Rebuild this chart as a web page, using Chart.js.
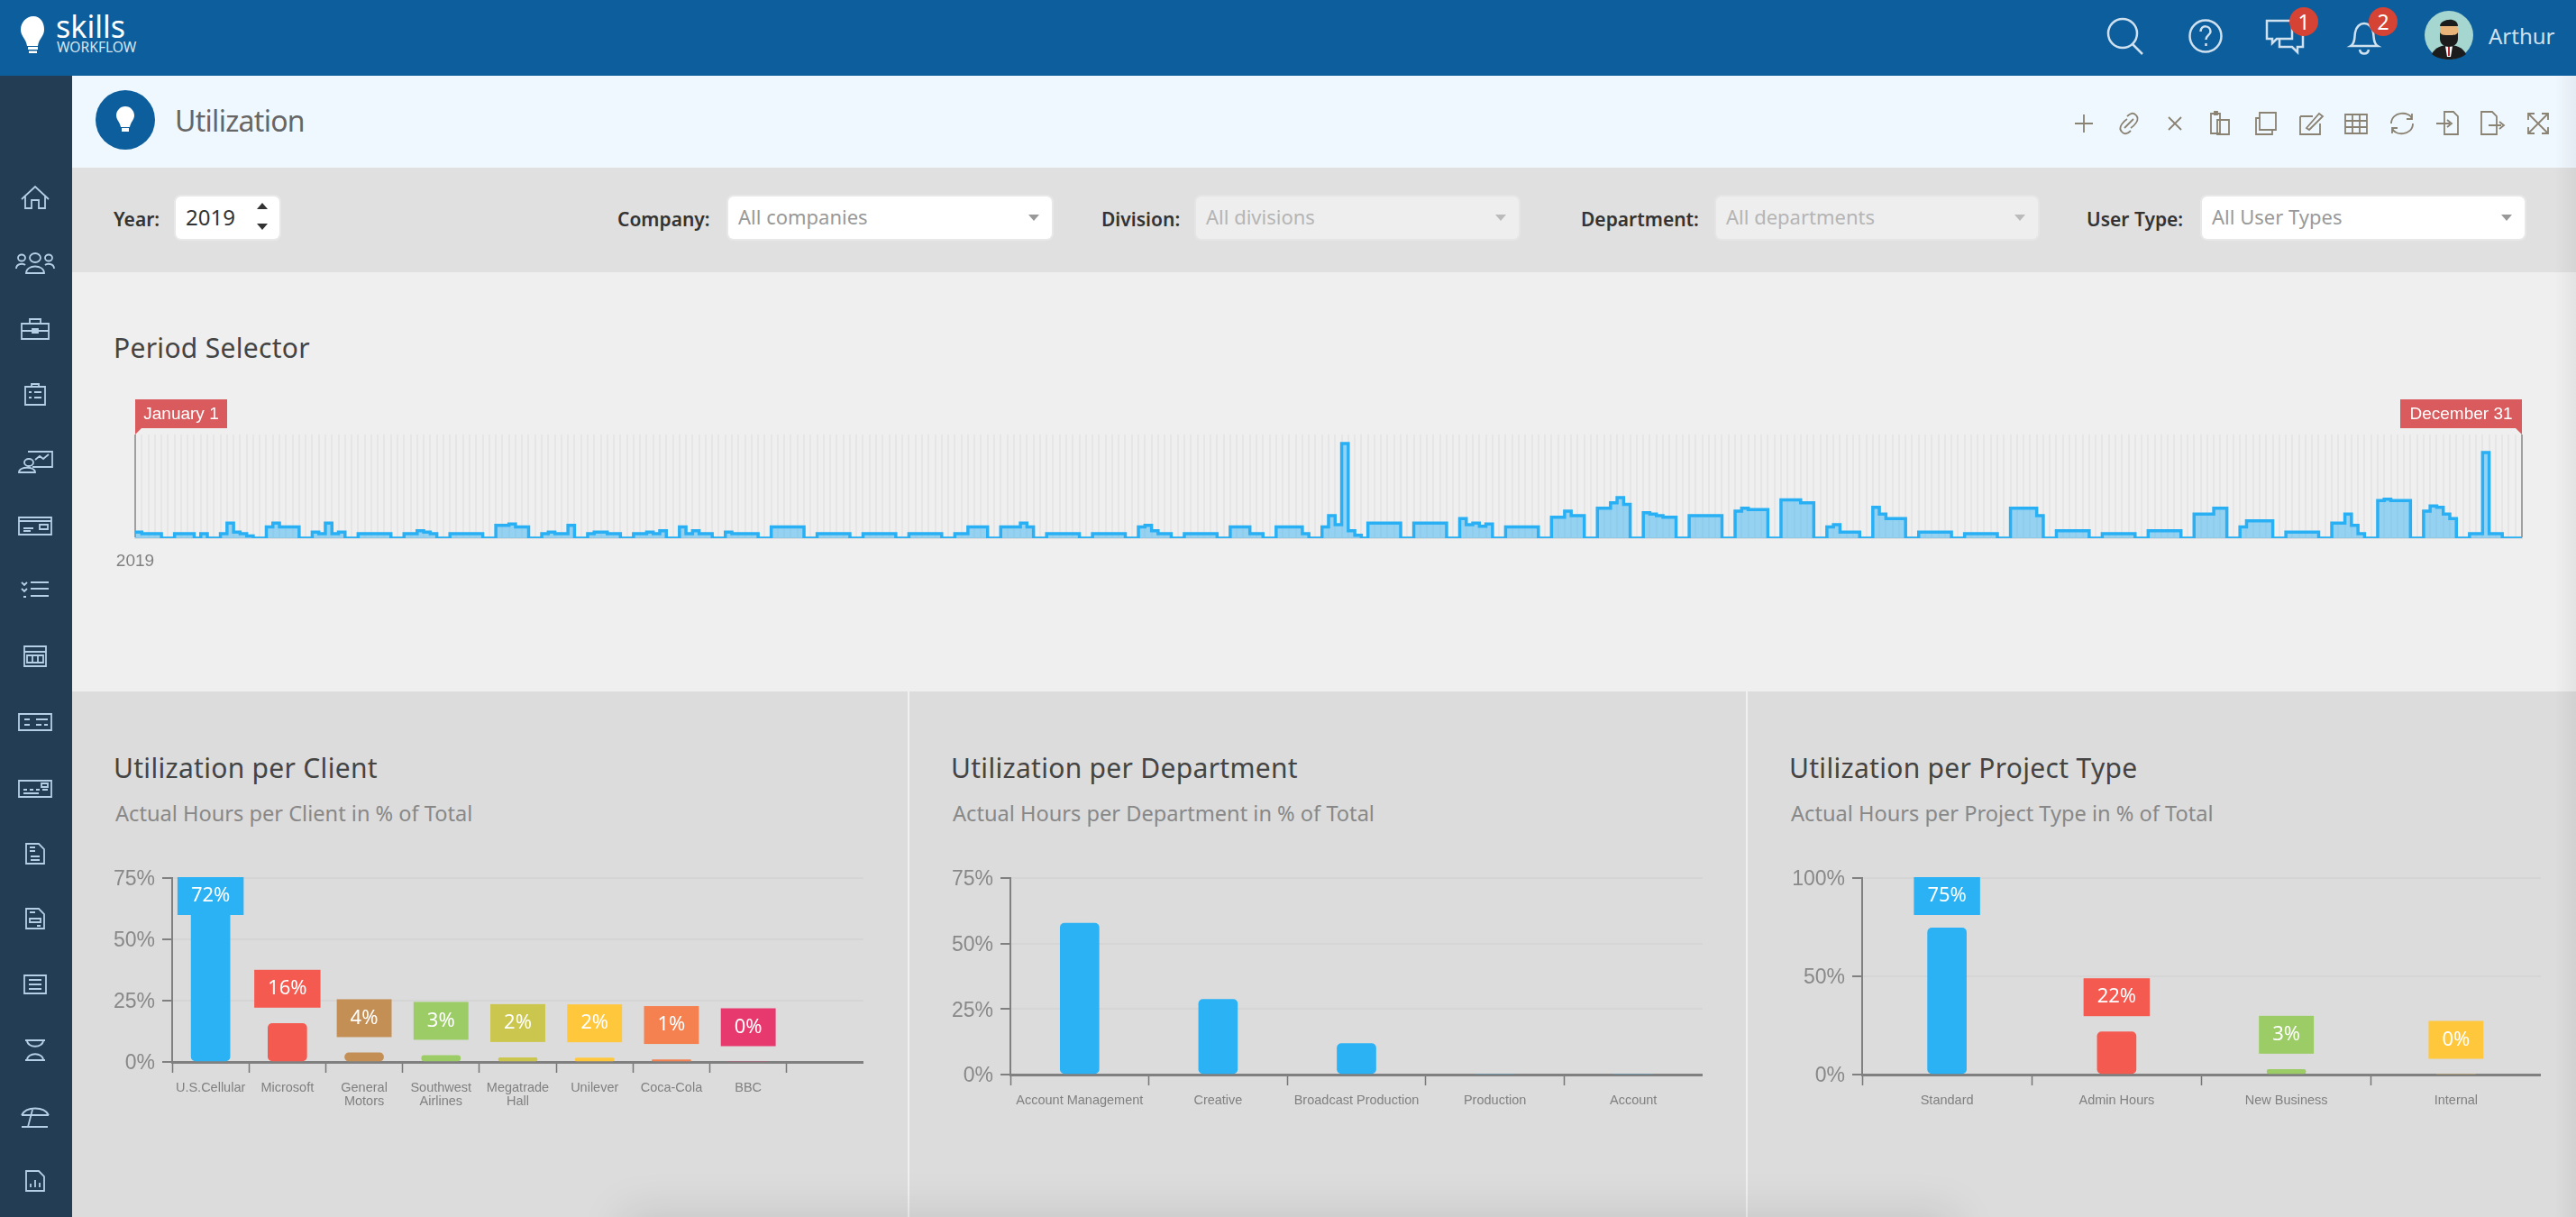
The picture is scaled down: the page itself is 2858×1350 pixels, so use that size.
<!DOCTYPE html>
<html>
<head>
<meta charset="utf-8">
<title>Utilization</title>
<script src="https://cdn.jsdelivr.net/npm/chart.js@4"></script>
<style>
  html, body { margin: 0; padding: 0; background: #dcdcdc; }
  body { position: relative; width: 2858px; height: 1350px; overflow: hidden; font-family: 'Noto Sans', sans-serif; }
  .box { position: absolute; }
  .txt { position: absolute; white-space: nowrap; line-height: 1; transform: translateY(-50%); }
  .field { position: absolute; top: 218px; height: 47px; box-sizing: border-box; background: #fff; border-radius: 6px; box-shadow: 0 0 0 2px #e8e8e8; font-size: 22px; line-height: 45px; padding-left: 11px; color: #999; }
  .field.off { background: #eee; color: #b5b5b5; box-shadow: 0 0 0 2px #e5e5e5; }
  .field i { position: absolute; right: 14px; top: 20px; border: 6px solid transparent; border-top: 7px solid #999; border-bottom: 0; }
  .field.off i { border-top-color: #bbb; }
  .lbl { font-size: 21px; font-weight: 600; color: #333; top: 243px; }
  .panelTitle { font-size: 30px; letter-spacing: .3px; color: #444; top: 852px; }
  .panelSub { font-size: 23.6px; color: #888; top: 903px; }
  canvas { position: absolute; }
  svg { position: absolute; overflow: visible; fill: none; }
</style>
</head>
<body>
<!-- frame -->
<div class="box" style="left:0;top:0;width:2858px;height:84px;background:#0c5e9d"></div>
<div class="box" style="left:0;top:84px;width:80px;height:1266px;background:#223d54"></div>
<div class="box" style="left:80px;top:84px;width:2778px;height:102px;background:#f0f8ff"></div>
<div class="box" style="left:80px;top:186px;width:2778px;height:116px;background:#e0e0e0"></div>
<div class="box" style="left:80px;top:302px;width:2778px;height:465px;background:#efefef"></div>
<div class="box" style="left:80px;top:767px;width:2778px;height:583px;background:#dcdcdc"></div>
<div class="box" style="left:1007px;top:767px;width:2px;height:583px;background:#f0f0f0"></div>
<div class="box" style="left:1937px;top:767px;width:2px;height:583px;background:#f0f0f0"></div>
<div class="box" style="left:2834px;top:84px;width:24px;height:1266px;background:linear-gradient(90deg,rgba(0,0,0,0),rgba(0,0,0,.05))"></div>
<div class="box" style="left:720px;top:1375px;width:1420px;height:20px;box-shadow:0 0 50px 30px rgba(0,0,0,.1)"></div>

<!-- logo -->
<svg style="left:20px;top:16px" width="34" height="44" viewBox="0 0 34 44">
  <path d="M17 2C9 2 3 9 3 17c0 7 6 10 7 18h12c1-8 7-11 7-18C29 9 25 2 17 2z" fill="#fff"/>
  <rect x="11" y="36" width="11" height="3" fill="#fff"/><rect x="12" y="40.500" width="9" height="2.500" fill="#fff"/>
</svg>
<div class="txt" style="left:62px;top:29px;font-size:34px;color:#fff">skills</div>
<div class="txt" style="left:63px;top:53px;font-size:15.6px;color:#d6e5f1">WORKFLOW</div>

<!-- top right -->
<svg style="left:2336px;top:18px" width="46" height="44" stroke="#cfe0ef" stroke-width="2.500">
  <circle cx="19" cy="19" r="16"/><path d="M30 31l11 11"/>
</svg>
<svg style="left:2428px;top:21px" width="38" height="38" stroke="#cfe0ef" stroke-width="2.500">
  <circle cx="19" cy="19" r="17.500"/><path d="M13.500 14c0-8 11-7 11 0 0 4-5 4-5 9M19.500 27v3"/>
</svg>
<svg style="left:2513px;top:21px" width="44" height="38" stroke="#cfe0ef" stroke-width="2.500">
  <path d="M4 2h26v20H13l-5 5v-5H2V2zM16 22v9h14l6 6v-6h6V14h-8"/>
</svg>
<svg style="left:2606px;top:21px" width="34" height="40" stroke="#cfe0ef" stroke-width="2.500">
  <path d="M2 30c5-3 4-9 5-15 1-6 5-10 10-10s9 4 10 10c1 6 0 12 5 15zM12 34c1 6 9 6 10 0"/>
</svg>
<div class="box" style="left:2540px;top:8px;width:32px;height:32px;border-radius:50%;background:#d54335;color:#fff;font-size:23px;line-height:32px;text-align:center">1</div>
<div class="box" style="left:2628px;top:8px;width:32px;height:32px;border-radius:50%;background:#d54335;color:#fff;font-size:23px;line-height:32px;text-align:center">2</div>
<svg style="left:2690px;top:12px" width="54" height="54" viewBox="0 0 54 54">
  <ellipse cx="27" cy="27" rx="27" ry="27" fill="#a6d6d0"/>
  <path d="M8 48c4-8 12-10 19-10s15 2 19 10c-10 8-28 8-38 0z" fill="#1c1c1c"/>
  <path d="M23 39h8l-2 12h-4z" fill="#fff"/><path d="M26 40h2v10h-2z" fill="#b3262e"/>
  <rect x="17" y="12" width="20" height="25" rx="9" fill="#e9b47a"/>
  <path d="M17 24c2 3 4 3 10 3s8 0 10-3v7c0 6-5 9-10 9s-10-3-10-9z" fill="#1c1c1c"/>
  <path d="M17 17c0-8 20-11 20 0z" fill="#1c1c1c"/>
</svg>
<div class="txt" style="left:2761px;top:40px;font-size:24px;color:#cfe0ef">Arthur</div>

<!-- title bar -->
<div class="box" style="left:106px;top:100px;width:66px;height:66px;border-radius:50%;background:#0c5e9d"></div>
<svg style="left:128px;top:117px" width="22" height="30" viewBox="0 0 22 30">
  <path d="M11 1C5 1 1 6 1 11c0 5 4 7 5 13h10c1-6 5-8 5-13 0-5-4-10-10-10z" fill="#fff"/><rect x="7" y="25" width="8" height="4" fill="#fff"/>
</svg>
<div class="txt" style="left:194px;top:134px;font-size:32px;letter-spacing:-.7px;color:#666">Utilization</div>
<div id="tools"></div>
<div id="side"></div>

<!-- filters -->
<div class="txt lbl" style="left:126px">Year:</div>
<div class="field" style="left:195px;width:115px;color:#333;font-size:24px">2019</div>
<svg style="left:284px;top:224px" width="14" height="32"><path d="M1 8l6-7 6 7zM1 24l6 7 6-7z" fill="#333"/></svg>
<div class="txt lbl" style="left:685px">Company:</div>
<div class="field" style="left:808px;width:359px">All companies<i></i></div>
<div class="txt lbl" style="left:1222px">Division:</div>
<div class="field off" style="left:1327px;width:358px">All divisions<i></i></div>
<div class="txt lbl" style="left:1754px">Department:</div>
<div class="field off" style="left:1904px;width:357px">All departments<i></i></div>
<div class="txt lbl" style="left:2315px">User Type:</div>
<div class="field" style="left:2443px;width:358px">All User Types<i></i></div>

<!-- period selector -->
<div class="txt" style="left:126px;top:386px;font-size:30px;letter-spacing:.3px;color:#444">Period Selector</div>
<canvas id="periodChart" width="2778" height="210" style="left:80px;top:435px"></canvas>

<!-- panels -->
<div class="txt panelTitle" style="left:126px">Utilization per Client</div>
<div class="txt panelSub" style="left:128px">Actual Hours per Client in % of Total</div>
<canvas id="clientChart" width="858" height="310" style="left:100px;top:950px"></canvas>

<div class="txt panelTitle" style="left:1055px">Utilization per Department</div>
<div class="txt panelSub" style="left:1057px">Actual Hours per Department in % of Total</div>
<canvas id="deptChart" width="859" height="310" style="left:1030px;top:950px"></canvas>

<div class="txt panelTitle" style="left:1985px">Utilization per Project Type</div>
<div class="txt panelSub" style="left:1987px">Actual Hours per Project Type in % of Total</div>
<canvas id="typeChart" width="844" height="310" style="left:1975px;top:950px"></canvas>

<script>
'use strict';

/* Hours booked per day, 1 Jan - 31 Dec 2019, rows run Saturday to Friday */
const dailyHours = [
  4, 3, 3, 3,
  0, 0, 3, 3, 3, 0, 3,
  0, 0, 3, 10, 4, 3, 1.5,
  0, 0, 7.5, 10, 7.5, 7.5, 7.5,
  0, 0, 4, 3, 10, 3, 4,
  0, 0, 3, 3, 3, 3, 3,
  0, 0, 3, 3, 5, 4, 3,
  0, 0, 3, 3, 3, 3, 3,
  0, 0, 8.5, 8.5, 9.5, 7.5, 7.5,
  0, 0, 3, 4, 3, 3, 8.5,
  0, 0, 3, 4, 4, 3, 3,
  0, 0, 3, 3, 4, 3, 5,
  0, 0, 7.5, 3, 5, 3, 3,
  0, 0, 4, 3, 3, 3, 3,
  0, 0, 7.5, 7.5, 7.5, 7.5, 7.5,
  0, 0, 3, 3, 3, 3, 3,
  0, 0, 3, 3, 3, 3, 3,
  0, 0, 3, 3, 3, 3, 3,
  0, 0, 3, 3, 7.5, 7.5, 7.5,
  0, 0, 7.5, 7.5, 7.5, 10, 7.5,
  0, 0, 3, 3, 3, 3, 3,
  0, 0, 3, 3, 3, 3, 3,
  0, 0, 7.5, 8.5, 5, 3, 3,
  0, 0, 3, 3, 3, 3, 3,
  0, 0, 7.5, 7.5, 7.5, 3, 3,
  0, 0, 7.5, 7.5, 7.5, 7.5, 3,
  0, 0, 7.5, 15, 9, 63, 5,
  2, 0, 10, 10, 10, 10, 10,
  0, 0, 10, 10, 10, 10, 10,
  0, 0, 13, 9, 10, 8, 9.5,
  0, 0, 7.5, 7.5, 7.5, 7.5, 7.5,
  0, 0, 14, 14, 18, 15, 15,
  0, 0, 20, 20, 23.5, 27, 22.5,
  0, 0, 17, 16, 15, 14, 14,
  0, 0, 15, 15, 15, 15, 15,
  0, 0, 18, 20, 19, 19, 19,
  0, 0, 25.5, 25.5, 25.5, 23.5, 23.5,
  0, 0, 7.5, 9, 4, 4, 4,
  0, 0, 20.5, 16, 13, 13, 13,
  0, 0, 4, 4, 4, 4, 4,
  0, 0, 3, 3, 3, 3, 3,
  0, 0, 20, 20, 20, 20, 15,
  0, 0, 5, 5, 5, 5, 5,
  0, 0, 3, 3, 3, 3, 3,
  0, 0, 5, 5, 5, 5, 5,
  0, 0, 16, 16, 16, 20, 20,
  0, 0, 7.5, 11.5, 11.5, 11.5, 11.5,
  0, 0, 4, 4, 4, 4, 4,
  0, 0, 10, 10, 16, 8.5, 3,
  0, 0, 25, 26, 25, 25, 25,
  0, 0, 18, 21.5, 20.5, 16, 13,
  0, 0, 3, 3, 57, 3, 3,
  0, 0, 0, 0,
];
const periodYear  = '2019';
const periodStart = 'January 1';
const periodEnd   = 'December 31';

const clientLabels = ['U.S.Cellular', 'Microsoft', ['General', 'Motors'], ['Southwest', 'Airlines'], ['Megatrade', 'Hall'], 'Unilever', 'Coca-Cola', 'BBC', ''];
const clientValues = [72, 15.7, 3.7, 2.6, 1.7, 1.6, 0.9, 0, null];
const clientColors = ['#2bb2f5', '#f55a50', '#c48f55', '#9ccc65', '#cbc64d', '#ffc73c', '#f58050', '#e8396f', '#999'];

const deptLabels = ['Account Management', 'Creative', 'Broadcast Production', 'Production', 'Account'];
const deptValues = [57.8, 28.7, 11.8, 0, 0];
const deptColors = ['#2bb2f5', '#2bb2f5', '#2bb2f5', '#2bb2f5', '#2bb2f5'];

const typeLabels = ['Standard', 'Admin Hours', 'New Business', 'Internal'];
const typeValues = [74.6, 21.7, 2.6, 0];
const typeColors = ['#2bb2f5', '#f55a50', '#9ccc65', '#ffc73c'];

/* icon outlines for the side menu and the toolbar */
const sideIconY = [219, 292, 365, 438, 510, 583, 655, 728, 801, 875, 947, 1019, 1092, 1165, 1238, 1310];
const sideIcons = [
  'M-15 2L0-12 15 2M-11-1V12H-4V3H4V12H11V-1',
  'M-6-6a6 5 0 1 0 12 0a6 5 0 1 0-12 0M-10 11c0-10 20-10 20 0zM-19-6a4 3.500 0 1 0 8 0a4 3.500 0 1 0-8 0M11-6a4 3.500 0 1 0 8 0a4 3.500 0 1 0-8 0M-21 6c0-6 8-6 10-4M21 6c0-6-8-6-10-4',
  'M-15-6H15V11H-15zM-6-6V-11H6V-6M-15 2H15M-3 0H3V4H-3z',
  'M-11-9H11V11H-11zM-4-9V-12H4V-9M-7-3H-4M-1-3H7M-7 3H-4M-1 3H7',
  'M-8-9H19V8H-3M-12 3a5 4 0 1 0 10 0a5 4 0 1 0-10 0M-18 14c0-7 18-7 18 0zM0 0L5-4 9-1 15-6',
  'M-18-9H18V10H-18zM-18-5H18M-13 3H-2M-13 6H-5M5-1H14V4H5z',
  'M-15-9L-12-6-9-9M-15-2L-12 1-9-2M-13 7H-10M-5-9H15M-5-2H15M-5 6H15',
  'M-12-11H12V11H-12zM-12-5H12M-9-1H9V7H-9zM-3-1V7M3-1V7',
  'M-18-9H18V9H-18zM-12-3H-6M-12 3H-6M1-3H14M1 3H7M10 3H14',
  'M-18-9H18V9H-18zM-13 1H-9M-6 1H-2M1 1H5M8 1H14M-13 5H4M7-6H14V-2H7z',
  'M-10-11H4L10-5V11H-10zM-6-7H0M-6-3H0M-5 3H5M-5 7H5',
  'M-10-11H4L10-5V11H-10zM-6-7H0M-6 0H6V4H-6zM2 8H6',
  'M-12-10H12V10H-12zM-7-5H7M-7 0H7M-7 5H7',
  'M-11-11H11M-11 11H11M-9-11C-9-2 9-2 9-11M-9 11C-9 2 9 2 9 11',
  'M-15-1C-10-11 10-11 15-1M-15-1H15M-3-7L-8 12M-15 12H14',
  'M-10-11H4L10-5V11H-10zM-5 7V3M0 7V-1M5 7V2',
];
const toolX = [2312, 2362, 2413, 2463, 2514, 2564, 2614, 2665, 2715, 2765, 2816];
const toolIcons = [
  'M-10 0H10M0-10V10',
  'M-8 9C-13 4-5-3-2-5M8-9C13-4 5 3 2 5M-5 5L5-5M-8 9C-5 13-1 11 2 8M8-9C5-13 1-11-2-8',
  'M-7-7L7 7M7-7L-7 7',
  'M-10-11H0V11H-10zM-3-4H10V12H-3zM-6-13H-3V-10H-6z',
  'M-7-12H11V7H-7zM-7-6H-11V12H7V7',
  'M-12-8H2M-12-8V12H10V0M-5 5L9-11 13-8-2 7z',
  'M-12-10H12V11H-12zM-12-3H12M-12 4H12M-4-10V11M4-10V11',
  'M-12 0C-12-14 9-14 11-5M11-11V-5H5M12 0C12 14-9 14-11 5M-11 11V5H-5',
  'M-3-13H7L12-8V12H-3zM-12 0H3M0-4L5 0 0 4',
  'M-12-13H0L5-8V12H-12zM-4 2H10M8-2L13 2 8 6',
  'M-11-11L11 11M11-11L-11 11M-11-4V-11H-4M4-11H11V-4M-11 4V11H-4M11 4V11H4',
];

function addIcons(holderId, items, color, width) {
  const holder = document.getElementById(holderId);
  holder.innerHTML = items.map(it =>
    `<svg style="left:${it.x}px;top:${it.y}px" width="1" height="1" stroke="${color}" stroke-width="${width}"><path d="${it.d}"/></svg>`
  ).join('');
}
addIcons('side', sideIcons.map((d, i) => ({ x: 39, y: sideIconY[i], d })), '#b4cfe6', 1.8);
addIcons('tools', toolIcons.map((d, i) => ({ x: toolX[i], y: 137, d })), '#8a8272', 1.8);

/* red start/end flags on the period axis */
const periodFlags = {
  id: 'periodFlags',
  afterDraw(chart) {
    const { ctx, scales, chartArea } = chart;
    const flag = (x, w, text) => {
      const left = w > 0 ? x : x + w;
      const notch = w > 0 ? x + 7 : x - 7;
      ctx.fillStyle = '#d95b5e';
      ctx.fillRect(left, chartArea.top - 39, Math.abs(w), 32);
      ctx.beginPath();
      ctx.moveTo(x, chartArea.top - 7);
      ctx.lineTo(x, chartArea.top);
      ctx.lineTo(notch, chartArea.top - 7);
      ctx.fill();
      ctx.fillStyle = '#fff';
      ctx.font = '19px "Liberation Sans"';
      ctx.textAlign = 'center';
      ctx.textBaseline = 'middle';
      ctx.fillText(text, left + Math.abs(w) / 2, chartArea.top - 22);
    };
    ctx.save();
    flag(scales.x.getPixelForValue(0), 102, periodStart);
    flag(scales.x.getPixelForValue(dailyHours.length - 1), -135, periodEnd);
    ctx.restore();
  },
};

new Chart(document.getElementById('periodChart').getContext('2d'), {
  type: 'line',
  data: {
    labels: dailyHours.map((v, i) => i),
    datasets: [{
      data: dailyHours,
      borderColor: '#29b0f4',
      backgroundColor: 'rgba(41,176,244,0.45)',
      fill: 'origin', stepped: true, pointRadius: 0, borderWidth: 3.5,
    }],
  },
  options: {
    responsive: false, animation: false,
    layout: { padding: { left: 70, right: 60, top: 47 } },
    plugins: { legend: { display: false }, tooltip: { enabled: false } },
    scales: {
      x: {
        afterFit: s => { s.paddingLeft = 0; s.paddingRight = 0; s.height = 48; },
        grid: {
          drawTicks: false, lineWidth: 2,
          color: ctx => (ctx.index === 0 || ctx.index === dailyHours.length - 1) ? '#a0a0a0' : '#e6e6e6',
        },
        border: { color: '#dedede', width: 2 },
        ticks: {
          autoSkip: false, maxRotation: 0, padding: 14,
          color: '#808080', font: { family: 'Liberation Sans', size: 19 },
          callback: (v, i) => i === 0 ? periodYear : '',
        },
      },
      y: { display: false, min: 0, max: 69 },
    },
  },
  plugins: [periodFlags],
});

/* coloured value tag floating over each bar, pushed down at the top of the plot */
const valueTags = {
  id: 'valueTags',
  afterDatasetsDraw(chart) {
    const { ctx, chartArea } = chart;
    const ds = chart.data.datasets[0];
    ctx.save();
    ctx.font = '22px "Noto Sans"';
    ctx.textAlign = 'center';
    ctx.textBaseline = 'middle';
    chart.getDatasetMeta(0).data.forEach((bar, i) => {
      if (ds.data[i] === null) return;
      const text = Math.round(ds.data[i]) + '%';
      const w = ctx.measureText(text).width + 30;
      const top = Math.max(bar.y - 17.5 - 42, chartArea.top - 1);
      ctx.fillStyle = ds.backgroundColor[i];
      ctx.fillRect(bar.x - w / 2, top, w, 42);
      ctx.fillStyle = '#fff';
      ctx.fillText(text, bar.x, top + 21);
    });
    ctx.restore();
  },
};

function barChart(id, labels, values, colors, yMax, yStep, baseY, tags) {
  return new Chart(document.getElementById(id).getContext('2d'), {
    type: 'bar',
    data: {
      labels: labels,
      datasets: [{
        data: values,
        backgroundColor: colors,
        barThickness: 43, borderRadius: 5, borderSkipped: false,
      }],
    },
    options: {
      responsive: false, animation: false,
      layout: { padding: { top: 24 } },
      plugins: { legend: { display: false }, tooltip: { enabled: false } },
      scales: {
        x: {
          afterFit: s => { s.paddingLeft = 0; s.paddingRight = 0; s.height = 310 - baseY; },
          grid: {
            drawOnChartArea: false, tickLength: 12, tickWidth: 1.5,
            tickColor: ctx => ctx.index === undefined ? 'transparent' : '#777',
          },
          border: { color: '#808080', width: 3 },
          ticks: {
            autoSkip: false, maxRotation: 0, padding: 10,
            color: '#808080', font: { family: 'Liberation Sans', size: 14.5, lineHeight: 1 },
          },
        },
        y: {
          min: 0, max: yMax,
          afterFit: s => { s.width = 91; },
          grid: { color: '#d5d5d5', lineWidth: 2, tickLength: 11, tickWidth: 2, tickColor: '#808080' },
          border: { color: '#808080', width: 2 },
          ticks: {
            stepSize: yStep, padding: 8, labelOffset: 2,
            color: '#888', font: { family: 'Liberation Sans', size: 23 },
            callback: v => v + '%',
          },
        },
      },
    },
    plugins: tags ? [valueTags] : [],
  });
}

barChart('clientChart', clientLabels, clientValues, clientColors, 75, 25, 228, true);
barChart('deptChart', deptLabels, deptValues, deptColors, 75, 25, 242, false);
barChart('typeChart', typeLabels, typeValues, typeColors, 100, 50, 242, true);
</script>
</body>
</html>
